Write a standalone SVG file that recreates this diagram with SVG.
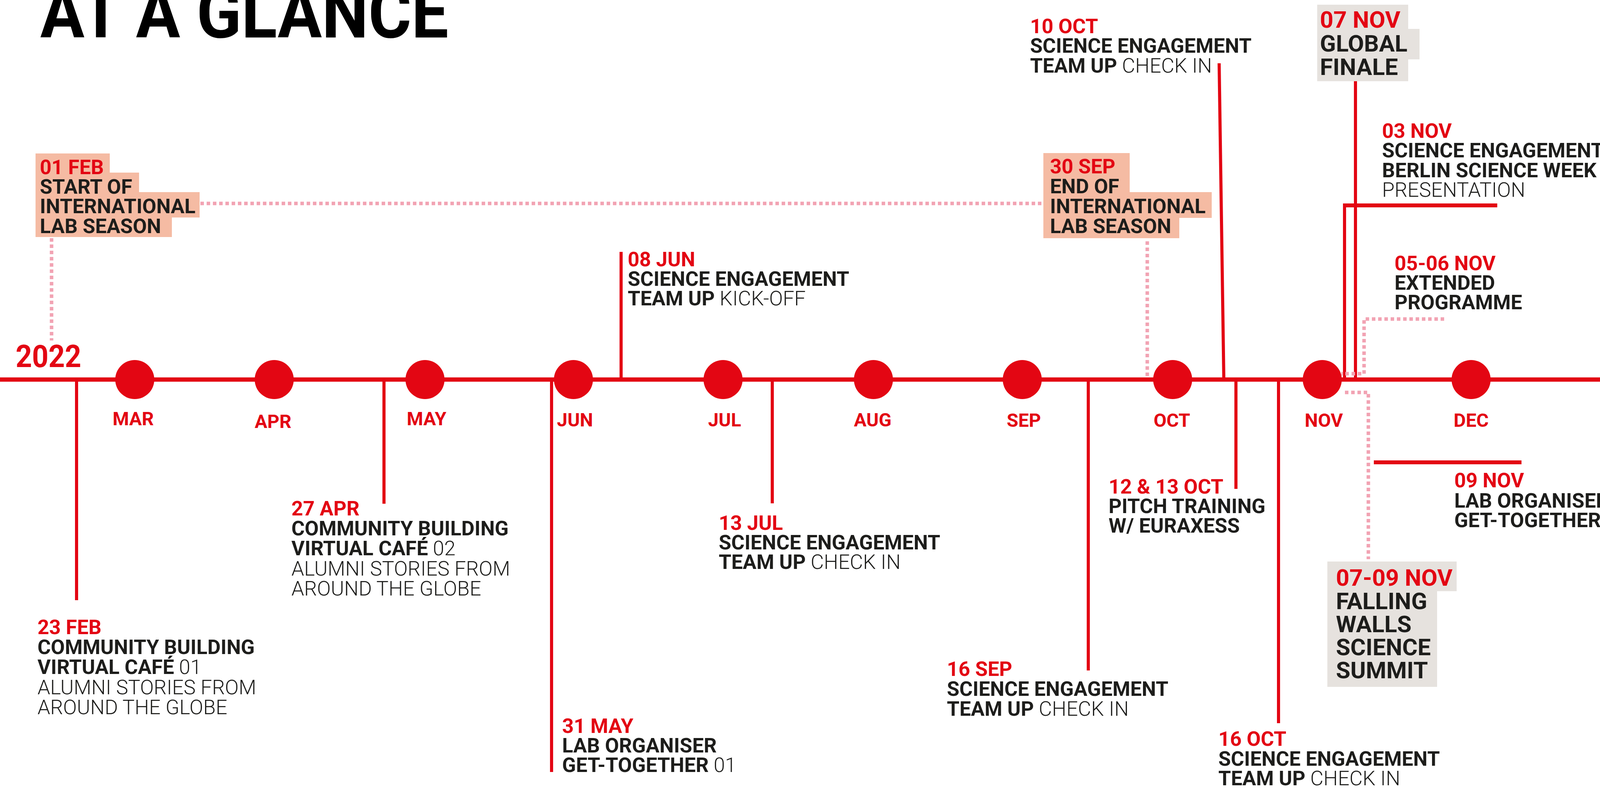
<svg xmlns="http://www.w3.org/2000/svg" width="4263" height="2018" viewBox="0 0 4263 2018">
<style>
text{font-family:Roboto,"Liberation Sans",Arial,sans-serif;font-weight:700;fill:#1D1D1B}
.l{font-size:52px}
.b{font-size:60px}
.d{fill:#E30613}
.t{font-weight:300}
.m{font-size:48px;fill:#E30613;text-anchor:middle}
.c{stroke:#E30613;stroke-width:8;fill:none}
.bar{stroke:#E30613;stroke-width:10;fill:none}
.dt{stroke:#F2A3B3;stroke-width:9;stroke-dasharray:9 7;fill:none}
.peach{fill:#F5BBA3}
.grey{fill:#E6E2DE}
.dot{fill:#E30613}
</style>
<rect width="4263" height="2018" fill="#FFFFFF"/>
<text id="title" x="103" y="96" font-size="183" textLength="1045" lengthAdjust="spacingAndGlyphs" style="fill:#000">AT A GLANCE</text>

<g id="connectors">
<line class="c" x1="0" y1="972" x2="4263" y2="972" style="stroke-width:11"/>
<line class="c" x1="196" y1="972" x2="196" y2="1537"/>
<line class="c" x1="983" y1="972" x2="983" y2="1290"/>
<line class="c" x1="1412" y1="972" x2="1412" y2="1977"/>
<line class="c" x1="1590" y1="645" x2="1590" y2="972"/>
<line class="c" x1="1977" y1="972" x2="1977" y2="1289"/>
<line class="c" x1="2786" y1="972" x2="2786" y2="1717"/>
<line class="c" x1="3121" y1="162" x2="3133" y2="972"/>
<line class="c" x1="3164" y1="972" x2="3164" y2="1252"/>
<line class="c" x1="3273" y1="972" x2="3273" y2="1852"/>
<line class="c" x1="3470" y1="208" x2="3470" y2="972"/>
<line class="c" x1="3442" y1="526" x2="3442" y2="972"/>
<line class="bar" x1="3438" y1="526" x2="3833" y2="526"/>
<line class="bar" x1="3517" y1="1184" x2="3895" y2="1184"/>
<polyline class="dt" points="132,610 132,872"/>
<polyline class="dt" points="513,521 2669,521"/>
<polyline class="dt" points="2937,618 2937,965"/>
<polyline class="dt" points="3697,817 3492,817 3492,957 3434,957"/>
<polyline class="dt" points="3443,1005 3503,1005 3503,1432"/>
</g>

<g id="months">
<circle class="dot" cx="345" cy="972" r="50"/>
<circle class="dot" cx="702" cy="972" r="50"/>
<circle class="dot" cx="1088" cy="972" r="50"/>
<circle class="dot" cx="1468" cy="972" r="50"/>
<circle class="dot" cx="1851" cy="972" r="50"/>
<circle class="dot" cx="2236" cy="972" r="50"/>
<circle class="dot" cx="2617" cy="972" r="50"/>
<circle class="dot" cx="3002" cy="972" r="50"/>
<circle class="dot" cx="3385" cy="972" r="50"/>
<circle class="dot" cx="3766" cy="972" r="50"/>
<text class="m" x="341" y="1089">MAR</text>
<text class="m" x="699" y="1096">APR</text>
<text class="m" x="1092" y="1089">MAY</text>
<text class="m" x="1472" y="1092">JUN</text>
<text class="m" x="1855" y="1092">JUL</text>
<text class="m" x="2234" y="1092">AUG</text>
<text class="m" x="2621" y="1093">SEP</text>
<text class="m" x="3000" y="1093">OCT</text>
<text class="m" x="3389" y="1093">NOV</text>
<text class="m" x="3766" y="1093">DEC</text>
</g>

<g id="year"><text x="40" y="940" font-size="80" textLength="168" lengthAdjust="spacingAndGlyphs" class="d">2022</text></g>

<g id="feb01">
<rect class="peach" x="91" y="393" width="190" height="60"/>
<rect class="peach" x="91" y="442" width="265" height="61"/>
<rect class="peach" x="91" y="492" width="420" height="65"/>
<rect class="peach" x="91" y="550" width="349" height="57"/>
<text class="l" x="102" y="446"><tspan class="d">01 FEB</tspan><tspan x="102" y="496">START OF</tspan><tspan x="102" y="546">INTERNATIONAL</tspan><tspan x="102" y="597">LAB SEASON</tspan></text>
</g>

<g id="sep30">
<rect class="peach" x="2671" y="392" width="221" height="105"/>
<rect class="peach" x="2671" y="492" width="431" height="66"/>
<rect class="peach" x="2671" y="552" width="348" height="58"/>
<text class="l" x="2688" y="444"><tspan class="d">30 SEP</tspan><tspan x="2688" y="495">END OF</tspan><tspan x="2688" y="546">INTERNATIONAL</tspan><tspan x="2688" y="597">LAB SEASON</tspan></text>
</g>

<g id="feb23">
<text class="l" x="96" y="1624"><tspan class="d">23 FEB</tspan><tspan x="96" y="1675">COMMUNITY BUILDING</tspan><tspan x="96" y="1726">VIRTUAL CAFÉ<tspan class="t"> 01</tspan></tspan><tspan class="t" x="96" y="1778">ALUMNI STORIES FROM</tspan><tspan class="t" x="96" y="1829">AROUND THE GLOBE</tspan></text>
</g>

<g id="apr27">
<text class="l" x="746" y="1320"><tspan class="d">27 APR</tspan><tspan x="746" y="1371">COMMUNITY BUILDING</tspan><tspan x="746" y="1422">VIRTUAL CAFÉ<tspan class="t"> 02</tspan></tspan><tspan class="t" x="746" y="1474">ALUMNI STORIES FROM</tspan><tspan class="t" x="746" y="1525">AROUND THE GLOBE</tspan></text>
</g>

<g id="may31">
<text class="l" x="1439" y="1877"><tspan class="d">31 MAY</tspan><tspan x="1439" y="1927">LAB ORGANISER</tspan><tspan x="1439" y="1977">GET-TOGETHER<tspan class="t"> 01</tspan></tspan></text>
</g>

<g id="jun08">
<text class="l" x="1607" y="682"><tspan class="d">08 JUN</tspan><tspan x="1607" y="732">SCIENCE ENGAGEMENT</tspan><tspan x="1607" y="782">TEAM UP<tspan class="t"> KICK-OFF</tspan></tspan></text>
</g>

<g id="jul13">
<text class="l" x="1840" y="1357"><tspan class="d">13 JUL</tspan><tspan x="1840" y="1407">SCIENCE ENGAGEMENT</tspan><tspan x="1840" y="1457">TEAM UP<tspan class="t"> CHECK IN</tspan></tspan></text>
</g>

<g id="sep16">
<text class="l" x="2424" y="1731"><tspan class="d">16 SEP</tspan><tspan x="2424" y="1782">SCIENCE ENGAGEMENT</tspan><tspan x="2424" y="1833">TEAM UP<tspan class="t"> CHECK IN</tspan></tspan></text>
</g>

<g id="oct10">
<text class="l" x="2637" y="85"><tspan class="d">10 OCT</tspan><tspan x="2637" y="135">SCIENCE ENGAGEMENT</tspan><tspan x="2637" y="186">TEAM UP<tspan class="t"> CHECK IN</tspan></tspan></text>
</g>

<g id="oct12">
<text class="l" x="2838" y="1264"><tspan class="d">12 &amp; 13 OCT</tspan><tspan x="2838" y="1314">PITCH TRAINING</tspan><tspan x="2838" y="1364">W/ EURAXESS</tspan></text>
</g>

<g id="oct16">
<text class="l" x="3119" y="1910"><tspan class="d">16 OCT</tspan><tspan x="3119" y="1961">SCIENCE ENGAGEMENT</tspan><tspan x="3119" y="2011">TEAM UP<tspan class="t"> CHECK IN</tspan></tspan></text>
</g>

<g id="nov07">
<rect class="grey" x="3372" y="12" width="233" height="66"/>
<rect class="grey" x="3372" y="74" width="262" height="78"/>
<rect class="grey" x="3372" y="148" width="233" height="60"/>
<text class="b" x="3379" y="71"><tspan class="d">07 NOV</tspan><tspan x="3379" y="132">GLOBAL</tspan><tspan x="3379" y="192">FINALE</tspan></text>
</g>

<g id="nov03">
<text class="l" x="3538" y="353"><tspan class="d">03 NOV</tspan><tspan x="3538" y="403">SCIENCE ENGAGEMENT</tspan><tspan x="3538" y="454">BERLIN SCIENCE WEEK</tspan><tspan class="t" x="3538" y="504">PRESENTATION</tspan></text>
</g>

<g id="nov05">
<text class="l" x="3570" y="692"><tspan class="d">05-06 NOV</tspan><tspan x="3570" y="742">EXTENDED</tspan><tspan x="3570" y="792">PROGRAMME</tspan></text>
</g>

<g id="nov0709">
<rect class="grey" x="3398" y="1438" width="331" height="76"/>
<rect class="grey" x="3398" y="1510" width="281" height="249"/>
<text class="b" x="3420" y="1500"><tspan class="d">07-09 NOV</tspan><tspan x="3420" y="1560">FALLING</tspan><tspan x="3420" y="1619">WALLS</tspan><tspan x="3420" y="1678">SCIENCE</tspan><tspan x="3420" y="1737">SUMMIT</tspan></text>
</g>

<g id="nov09">
<text class="l" x="3723" y="1248"><tspan class="d">09 NOV</tspan><tspan x="3723" y="1300">LAB ORGANISER</tspan><tspan x="3723" y="1350">GET-TOGETHER<tspan class="t"> 02</tspan></tspan></text>
</g>
</svg>
